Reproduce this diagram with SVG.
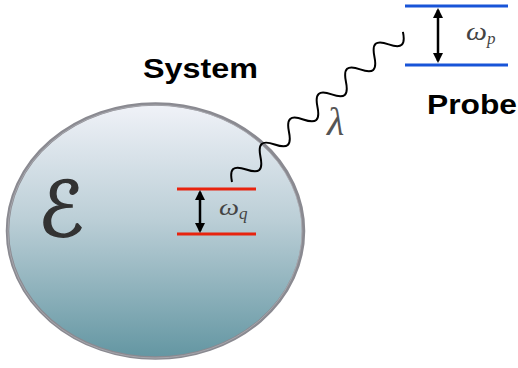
<svg xmlns="http://www.w3.org/2000/svg" width="518" height="368" viewBox="0 0 518 368">
<style>
.lbl{font-family:"Liberation Sans",Arial,sans-serif;font-weight:bold;fill:#000}
.math{font-family:"Liberation Serif","Times New Roman",serif;font-style:italic}
.arr{stroke:#000;stroke-width:2.5;fill:none;marker-start:url(#ah);marker-end:url(#ah)}
</style>
<defs>
<linearGradient id="g" x1="0" y1="0" x2="0" y2="1">
<stop offset="0" stop-color="#f0f2f8"/>
<stop offset="0.45" stop-color="#bccfd7"/>
<stop offset="1" stop-color="#6396a2"/>
</linearGradient>
<marker id="ah" viewBox="0 0 10 10" refX="8" refY="5" markerWidth="4" markerHeight="4" orient="auto-start-reverse" markerUnits="strokeWidth">
<path d="M0,0 L10,5 L0,10 Z" fill="#000"/>
</marker>
</defs>
<g id="system">
<ellipse cx="155.5" cy="231" rx="148" ry="127" fill="url(#g)" stroke="#8a8a91" stroke-width="3.5"/>
<ellipse cx="155" cy="231.5" rx="147" ry="126.5" fill="none" stroke="#b0b0b6" stroke-width="1" opacity="0.7"/>
<text x="38" y="236" style="font-family:'DejaVu Sans',sans-serif;font-size:76px;fill:#333;stroke:#333;stroke-width:1.6">ℰ</text>
<text class="lbl" x="143" y="78" font-size="28" textLength="115" lengthAdjust="spacingAndGlyphs">System</text>
</g>
<g id="qubit">
<line x1="177" y1="189" x2="256" y2="189" stroke="#e8230e" stroke-width="3"/>
<line x1="177" y1="234" x2="256" y2="234" stroke="#e8230e" stroke-width="3"/>
<text class="math" x="219" y="215" font-size="24" fill="#444" textLength="20" lengthAdjust="spacingAndGlyphs">ω</text>
<text class="math" x="239" y="219" font-size="17" fill="#444">q</text>
</g>
<g id="probe">
<line x1="405" y1="6" x2="508" y2="6" stroke="#1854d8" stroke-width="3"/>
<line x1="405" y1="65" x2="508" y2="65" stroke="#1854d8" stroke-width="3"/>
<text class="math" x="466" y="40" font-size="25" fill="#444" textLength="21" lengthAdjust="spacingAndGlyphs">ω</text>
<text class="math" x="487" y="44" font-size="17" fill="#444">p</text>
<text class="lbl" x="427" y="114" font-size="27" textLength="90" lengthAdjust="spacingAndGlyphs">Probe</text>
</g>
<g id="connectors">
<line class="arr" x1="200" y1="192" x2="200" y2="231"/>
<line class="arr" x1="438" y1="10" x2="438" y2="61"/>
<path transform="translate(232,182) rotate(-41.3)" fill="none" stroke="#000" stroke-width="2" d="M0,0 c6.83,-12 12.13,-12 18.96,0 c6.83,12 12.13,12 18.96,0 c6.83,-12 12.13,-12 18.96,0 c6.83,12 12.13,12 18.96,0 c6.83,-12 12.13,-12 18.96,0 c6.83,12 12.13,12 18.96,0 c6.83,-12 12.13,-12 18.96,0 c6.83,12 12.13,12 18.96,0 c6.83,-12 12.13,-12 18.96,0 c6.83,12 12.13,12 18.96,0 c6.83,-12 12.13,-12 18.96,0 c6.83,12 12.13,12 18.96,0"/>
<text class="math" x="327" y="135" font-size="40" fill="#555">λ</text>
</g>
</svg>
